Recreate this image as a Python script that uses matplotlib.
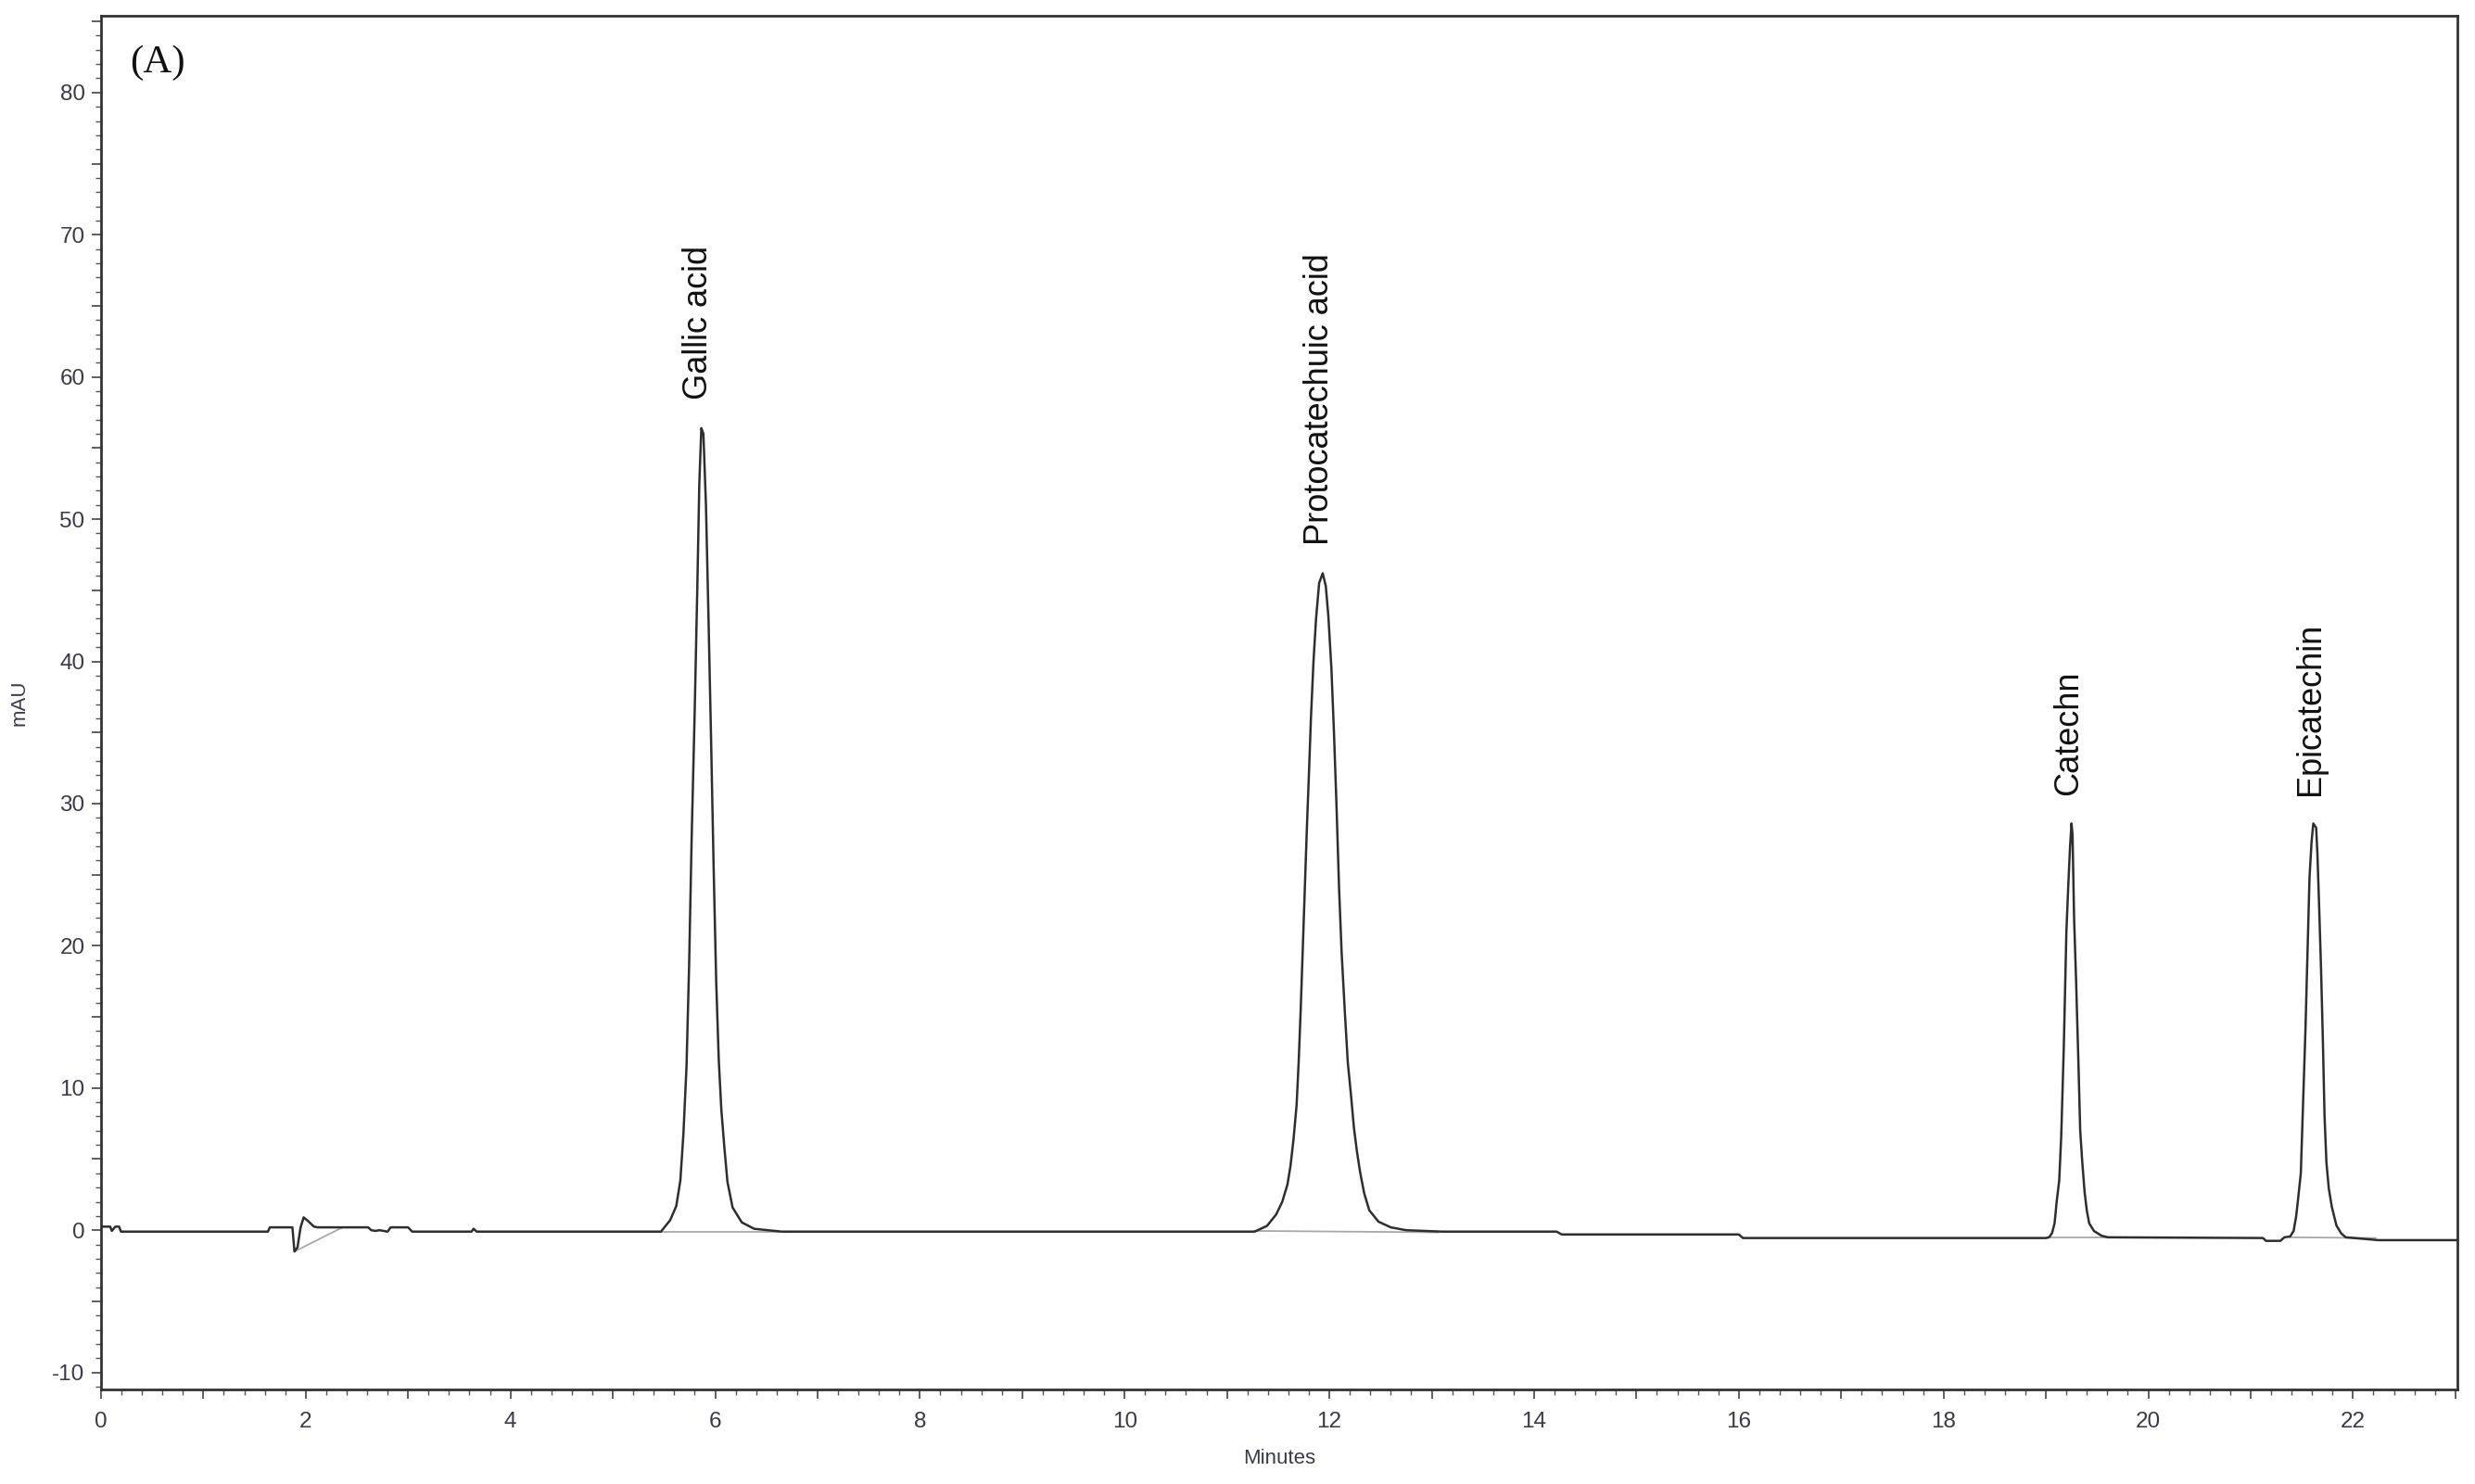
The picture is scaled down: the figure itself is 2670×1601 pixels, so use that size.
import matplotlib
matplotlib.use("Agg")
import matplotlib.pyplot as plt
import numpy as np
from matplotlib.ticker import MultipleLocator, FuncFormatter

plt.rcParams["font.family"] = ["Liberation Sans", "DejaVu Sans"]
plt.rcParams["axes.unicode_minus"] = False

# ---- trace (minutes, mAU) ----
pre_t = [0.00, 0.09, 0.106, 0.14, 0.177, 0.195, 1.63, 1.65, 1.87, 1.89, 1.92,
         1.95, 1.98, 2.03, 2.08, 2.12, 2.36, 2.40, 2.61, 2.64, 2.68, 2.72, 2.80,
         2.83, 3.00, 3.04, 3.62, 3.64, 3.67, 5.46]
pre_v = [0.25, 0.25, -0.05, 0.25, 0.25, -0.10, -0.10, 0.20, 0.20, -1.50, -1.20,
         0.20, 0.90, 0.60, 0.25, 0.20, 0.20, 0.20, 0.20, 0.00, -0.05, 0.00, -0.10,
         0.20, 0.20, -0.10, -0.10, 0.10, -0.10, -0.10]

gallic_t = [5.47, 5.56, 5.62, 5.66, 5.69, 5.72, 5.745, 5.77, 5.80, 5.825, 5.845,
            5.865, 5.885, 5.91, 5.935, 5.96, 5.985, 6.01, 6.035, 6.06, 6.09,
            6.12, 6.17, 6.26, 6.38, 6.65]
gallic_v = [-0.1, 0.7, 1.7, 3.5, 6.8, 11.5, 18.5, 27.5, 36.5, 45.0, 52.5,
            56.4, 56.0, 51.0, 43.0, 34.5, 25.5, 17.5, 12.0, 8.5, 5.8,
            3.4, 1.6, 0.55, 0.1, -0.1]

mid1_t = [6.75, 11.20]
mid1_v = [-0.1, -0.1]

proto_t = [11.27, 11.39, 11.48, 11.54, 11.59, 11.62, 11.65, 11.68, 11.70, 11.72,
           11.74, 11.76, 11.78, 11.80, 11.82, 11.845, 11.87, 11.90, 11.935, 11.965,
           11.99, 12.02, 12.045, 12.07, 12.095, 12.12, 12.15, 12.18, 12.21, 12.24,
           12.27, 12.30, 12.34, 12.39, 12.48, 12.60, 12.75]
proto_v = [-0.1, 0.3, 1.1, 2.0, 3.2, 4.5, 6.4, 8.8, 11.8, 15.5,
           19.8, 24.2, 28.2, 32.0, 36.0, 40.0, 43.0, 45.5, 46.2, 45.3,
           43.2, 39.5, 35.0, 29.8, 24.0, 19.5, 15.5, 11.8, 9.6, 7.2,
           5.5, 4.1, 2.6, 1.4, 0.6, 0.2, 0.0]

mid2_t = [13.10, 14.22, 14.27, 16.00, 16.04, 19.00]
mid2_v = [-0.1, -0.1, -0.3, -0.3, -0.55, -0.55]

cat_t = [19.031, 19.06, 19.085, 19.105, 19.13, 19.15, 19.175, 19.20, 19.22,
         19.236, 19.25, 19.26, 19.275, 19.295, 19.317, 19.335, 19.355, 19.378,
         19.40, 19.423, 19.47, 19.544, 19.605]
cat_v = [-0.50, -0.20, 0.50, 2.00, 3.50, 6.70, 13.00, 21.00, 24.50,
         27.00, 28.60, 27.80, 22.00, 17.50, 11.90, 7.00, 4.80, 2.67,
         1.36, 0.48, -0.06, -0.39, -0.50]

mid3_t = [21.12, 21.15, 21.29, 21.33]
mid3_v = [-0.55, -0.75, -0.75, -0.50]

epi_t = [21.386, 21.42, 21.445, 21.465, 21.49, 21.51, 21.535, 21.555, 21.575,
         21.595, 21.612, 21.64, 21.652, 21.668, 21.688, 21.705, 21.722, 21.74,
         21.763, 21.793, 21.838, 21.884, 21.929]
epi_v = [-0.44, -0.05, 1.00, 2.30, 4.00, 8.50, 14.00, 19.50, 24.80,
         27.30, 28.60, 28.30, 26.50, 23.00, 18.30, 13.50, 8.00, 4.80,
         2.95, 1.64, 0.33, -0.22, -0.50]

tail_t = [22.25, 23.02]
tail_v = [-0.70, -0.70]

# integration baselines (grey), start/end of each
base_t0 = [1.89, 5.47, 11.27, 19.03, 21.38]
base_v0 = [-1.50, -0.10, -0.05, -0.50, -0.50]
base_t1 = [2.36, 6.75, 13.06, 19.62, 22.22]
base_v1 = [0.20, -0.10, -0.15, -0.50, -0.55]

peak_names = ["Gallic acid", "Protocatechuic acid", "Catechn", "Epicatechin"]
peak_traces = [(gallic_t, gallic_v), (proto_t, proto_v), (cat_t, cat_v), (epi_t, epi_v)]

t = np.concatenate([pre_t, gallic_t, mid1_t, proto_t, mid2_t, cat_t, mid3_t, epi_t, tail_t])
v = np.concatenate([pre_v, gallic_v, mid1_v, proto_v, mid2_v, cat_v, mid3_v, epi_v, tail_v])

fig = plt.figure(figsize=(26.7, 16.01), dpi=100)
ax = fig.add_axes([0.0408, 0.0637, 0.9521, 0.9257])

for t0, v0, t1, v1 in zip(base_t0, base_v0, base_t1, base_v1):
    ax.plot([t0, t1], [v0, v1], color="#a8a8a8", lw=1.3, zorder=2)
ax.plot(t, v, color="#2e2e2e", lw=1.8, zorder=3)

for name, (pt, pv) in zip(peak_names, peak_traces):
    i = int(np.argmax(pv))
    ax.text(pt[i] - 0.03, pv[i] + 2.0, name, rotation=90, ha="center", va="bottom",
            fontsize=26, color="#111111")

ax.text(0.0122, 0.9588, "(A)", transform=ax.transAxes, fontsize=31,
        family="Liberation Serif", va="baseline", ha="left", color="#111111")

ax.set_xlim(0, 23.02)
ax.set_ylim(-11.2, 85.4)

ax.xaxis.set_major_locator(MultipleLocator(1))
ax.xaxis.set_minor_locator(MultipleLocator(0.2))
ax.xaxis.set_major_formatter(FuncFormatter(lambda x, p: f"{x:.0f}" if round(x) % 2 == 0 else ""))
ax.yaxis.set_major_locator(MultipleLocator(5))
ax.yaxis.set_minor_locator(MultipleLocator(1))
ax.yaxis.set_major_formatter(FuncFormatter(lambda y, p: f"{y:.0f}" if round(y) % 10 == 0 else ""))

tick_col = "#3a3a48"
ax.tick_params(which="major", direction="out", length=7.5, width=1.2, color="#444444",
               labelsize=17.5, labelcolor=tick_col)
ax.tick_params(which="minor", direction="out", length=4, width=1.0, color="#555555")
ax.tick_params(axis="x", which="major", pad=10)
ax.tick_params(axis="y", which="major", pad=5)

for s in ax.spines.values():
    s.set_color("#333333")
    s.set_linewidth(2.0)

ax.set_xlabel("Minutes", fontsize=16, color=tick_col, labelpad=13)
ax.set_ylabel("mAU", fontsize=16, color=tick_col)
ax.yaxis.set_label_coords(-0.0303, 0.5)

fig.savefig("out.png", dpi=100)
